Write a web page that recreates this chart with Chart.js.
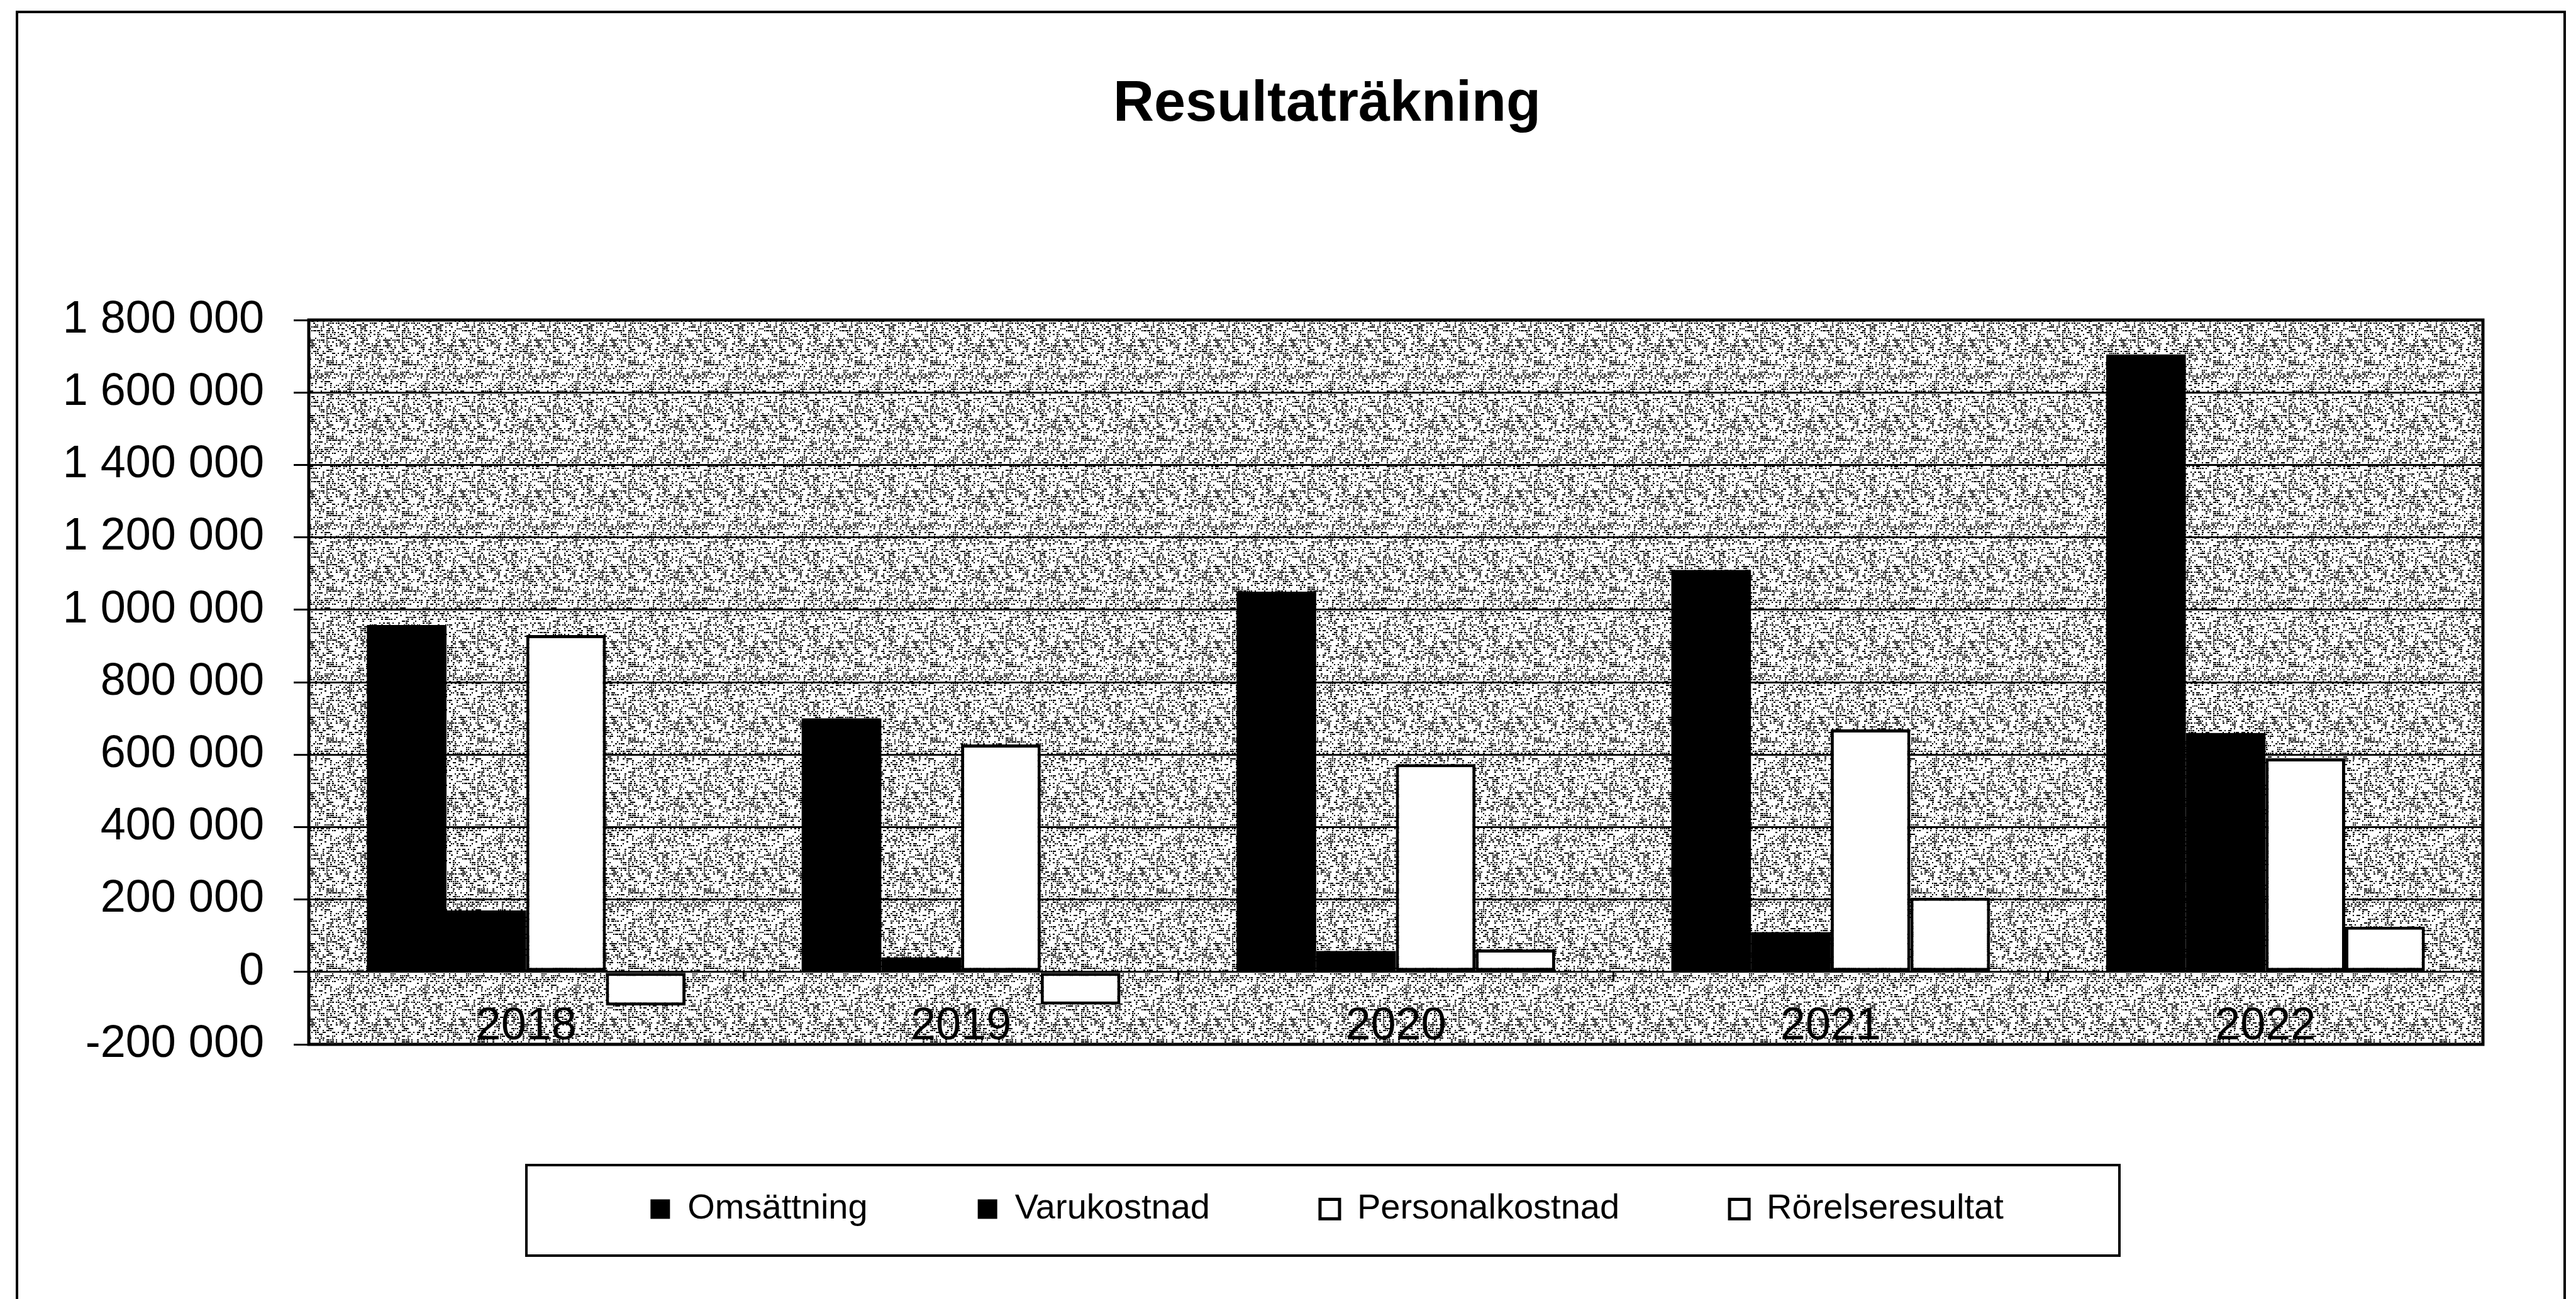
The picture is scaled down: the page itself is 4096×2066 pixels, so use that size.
<!DOCTYPE html>
<html>
<head>
<meta charset="utf-8">
<title>Resultaträkning</title>
<script src="https://cdn.jsdelivr.net/npm/chart.js@4.4.1/dist/chart.umd.min.js"></script>
<style>
  html, body { margin: 0; padding: 0; background: #fff; }
</style>
</head>
<body>
<canvas id="resultChart" width="4096" height="2066"></canvas>
<script>
const years = ['2018', '2019', '2020', '2021', '2022'];
const omsattning = [958000, 700000, 1050000, 1110000, 1705000];
const varukostnad = [170000, 40000, 58000, 110000, 660000];
const personalkostnad = [930000, 628000, 574000, 670000, 590000];
const rorelseresultat = [-93000, -90000, 62000, 205000, 125000];
const yMin = -200000;
const yMax = 1800000;
const yStep = 200000;

Chart.defaults.font.family = "'Liberation Sans', Arial, sans-serif";
Chart.defaults.color = '#000';

// "1 800 000" style labels
function spaced(v) {
  return String(v).replace(/\B(?=(\d{3})+(?!\d))/g, ' ');
}

// grey speckle behind the bars, like the scanned Excel fill
function speckle() {
  const c = document.createElement('canvas');
  c.width = 120; c.height = 120;
  const g = c.getContext('2d');
  g.fillStyle = '#fff';
  g.fillRect(0, 0, 120, 120);
  g.fillStyle = '#000';
  for (let y = 0; y < 120; y += 3) {
    for (let x = 0; x < 120; x += 3) {
      let h = Math.imul(x, 374761393) + Math.imul(y, 668265263);
      h = Math.imul(h ^ (h >>> 13), 1274126177);
      h = (h ^ (h >>> 16)) >>> 0;
      if (h % 100 < 40) g.fillRect(x, y, (h >> 9) % 2 ? 3 : 2, 2);
    }
  }
  return g.createPattern(c, 'repeat');
}

const frames = {
  id: 'frames',
  beforeDraw(chart) {
    const { ctx, chartArea: a } = chart;
    ctx.save();
    ctx.fillStyle = '#fff';
    ctx.fillRect(0, 0, chart.width, chart.height);
    ctx.strokeStyle = '#000';
    ctx.lineWidth = 4;
    ctx.beginPath();
    ctx.moveTo(27, chart.height);
    ctx.lineTo(27, 19);
    ctx.lineTo(4078, 19);
    ctx.lineTo(4078, chart.height);
    ctx.stroke();
    ctx.fillStyle = speckle();
    ctx.fillRect(a.left, a.top, a.width, a.height);
    ctx.restore();
  },
  afterDraw(chart) {
    const { ctx, chartArea: a } = chart;
    ctx.save();
    ctx.strokeStyle = '#000';
    ctx.lineWidth = 5;
    ctx.strokeRect(a.left, a.top, a.width, a.height);

    const boxes = chart.legend.legendHitBoxes;
    if (boxes.length) {
      const first = boxes[0];
      const last = boxes[boxes.length - 1];
      const cx = (first.left + last.left + last.width) / 2;
      const cy = first.top + first.height / 2;
      ctx.lineWidth = 4;
      ctx.strokeRect(cx - 1273, cy - 70, 2533, 144);
    }
    ctx.restore();
  }
};

new Chart(document.getElementById('resultChart'), {
  type: 'bar',
  data: {
    labels: years,
    datasets: [
      { label: 'Omsättning', data: omsattning, backgroundColor: '#000', borderColor: '#000', borderWidth: 0 },
      { label: 'Varukostnad', data: varukostnad, backgroundColor: '#000', borderColor: '#000', borderWidth: 0 },
      { label: 'Personalkostnad', data: personalkostnad, backgroundColor: '#fff', borderColor: '#000', borderWidth: 5, borderSkipped: false },
      { label: 'Rörelseresultat', data: rorelseresultat, backgroundColor: '#fff', borderColor: '#000', borderWidth: 5, borderSkipped: false }
    ]
  },
  options: {
    responsive: false,
    animation: false,
    devicePixelRatio: 1,
    categoryPercentage: 0.733,
    barPercentage: 1,
    // title and legend sit a little right of the page centre, so the box is shifted
    layout: { padding: { top: 0, left: 90, right: -34, bottom: 105 } },
    plugins: {
      title: {
        display: true,
        text: 'Resultaträkning',
        color: '#000',
        font: { size: 90, weight: 'bold' },
        padding: { top: 113, bottom: 288 }
      },
      legend: {
        position: 'bottom',
        title: { display: true, text: '', padding: 23.5, font: { size: 10 } },
        labels: { boxWidth: 31, boxHeight: 31, padding: 175, color: '#000', font: { size: 56 } }
      },
      tooltip: { enabled: false }
    },
    scales: {
      x: {
        position: { y: 0 },
        offset: true,
        ticks: { color: '#000', font: { size: 72 }, padding: 29, maxRotation: 0 },
        grid: { offset: true, drawOnChartArea: false, drawTicks: true, tickLength: 15, tickWidth: 3, tickColor: '#000' },
        border: { display: false }
      },
      y: {
        min: yMin,
        max: yMax,
        afterFit(scale) { scale.width = 401; },
        ticks: { stepSize: yStep, color: '#000', font: { size: 72 }, padding: 47, callback: v => spaced(v) },
        grid: { color: '#000', lineWidth: 3, tickLength: 24, tickWidth: 3, tickColor: '#000' },
        border: { display: false }
      },
      // empty margin on the right of the plot
      yRight: {
        position: 'right',
        display: true,
        ticks: { display: false },
        grid: { display: false },
        border: { display: false },
        afterFit(scale) { scale.width = 182; }
      }
    }
  },
  plugins: [frames]
});
</script>
</body>
</html>
